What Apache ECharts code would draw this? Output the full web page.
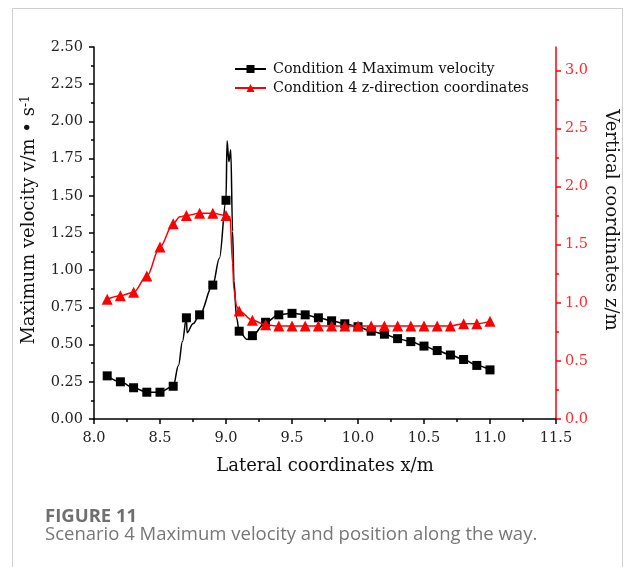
<!DOCTYPE html>
<html>
<head>
<meta charset="utf-8">
<script src="https://cdn.jsdelivr.net/npm/echarts@6/dist/echarts.min.js"></script>
<style>
  html, body { margin: 0; padding: 0; background: #fff; }
  #chart { width: 625px; height: 567px; }
</style>
</head>
<body>
<div id="chart"></div>
<script>
// Sampling positions (x, m) where markers are drawn
const markX = [8.1, 8.2, 8.3, 8.4, 8.5, 8.6, 8.7, 8.8, 8.9, 9.0,
               9.1, 9.2, 9.3, 9.4, 9.5, 9.6, 9.7, 9.8, 9.9, 10.0,
               10.1, 10.2, 10.3, 10.4, 10.5, 10.6, 10.7, 10.8, 10.9, 11.0];

// Condition 4 maximum velocity (m/s) at the marker positions
const velocity = [0.29, 0.25, 0.21, 0.18, 0.18, 0.22, 0.68, 0.70, 0.90, 1.47,
                  0.59, 0.56, 0.65, 0.70, 0.71, 0.70, 0.68, 0.66, 0.64, 0.62,
                  0.59, 0.57, 0.54, 0.52, 0.49, 0.46, 0.43, 0.40, 0.36, 0.33];

// Intermediate velocity samples between markers (curve only, no marker)
const velocityExtraX = [8.64, 8.67, 8.705, 8.75, 8.95, 9.008, 9.022, 9.036, 9.05, 9.06, 9.08, 9.16];
const velocityExtra  = [0.36, 0.52, 0.58, 0.64, 1.08, 1.87, 1.73, 1.81, 1.26, 0.93, 0.68, 0.535];

// Condition 4 z-direction coordinate (m) at the marker positions
const elevation = [1.03, 1.06, 1.09, 1.23, 1.48, 1.68, 1.75, 1.77, 1.77, 1.75,
                   0.93, 0.85, 0.81, 0.80, 0.80, 0.80, 0.80, 0.80, 0.80, 0.80,
                   0.80, 0.80, 0.80, 0.80, 0.80, 0.80, 0.80, 0.82, 0.82, 0.84];

// Intermediate elevation samples (curve only, no marker)
const elevationExtraX = [8.65, 9.03, 9.05, 9.06, 9.08];
const elevationExtra  = [1.74, 1.74, 1.34, 1.11, 0.97];

// Tick positions of the z axis
const zMajorTicks = [0, 0.5, 1.0, 1.5, 2.0, 2.5, 3.0];
const zMinorTicks = [0.25, 0.75, 1.25, 1.75, 2.25, 2.75];

const SERIF = '"DejaVu Serif", "Liberation Serif", serif';
const CAPTION = '"Open Sans", Lato, sans-serif';

function mergeSeries(mx, my, ex, ey) {
  const pts = [];
  mx.forEach((x, i) => pts.push({ value: [x, my[i]] }));
  ex.forEach((x, i) => pts.push({ value: [x, ey[i]], symbol: 'none' }));
  pts.sort((a, b) => a.value[0] - b.value[0]);
  return pts;
}

const chart = echarts.init(document.getElementById('chart'), null, { renderer: 'canvas' });

const option = {
  backgroundColor: '#fff',
  animation: false,
  grid: { left: 94, right: 69, top: 47, bottom: 148, containLabel: false, outerBoundsMode: 'none' },
  legend: {
    orient: 'vertical',
    left: 234,
    top: 62,
    padding: 0,
    itemWidth: 31,
    itemHeight: 10,
    itemGap: 5,
    textStyle: { fontFamily: SERIF, fontSize: 14.3, lineHeight: 14, color: '#111', padding: [0, 0, 0, 2] },
    data: ['Condition 4 Maximum velocity', 'Condition 4 z-direction coordinates']
  },
  xAxis: {
    type: 'value',
    min: 8.0,
    max: 11.5,
    interval: 0.5,
    name: 'Lateral coordinates x/m',
    nameLocation: 'middle',
    nameGap: 38,
    nameTextStyle: { fontFamily: SERIF, fontSize: 18, color: '#111' },
    axisLine: { lineStyle: { color: '#000', width: 1.5 } },
    axisTick: { length: 5, lineStyle: { color: '#000', width: 1.5 } },
    minorTick: { show: true, splitNumber: 2, length: 3, lineStyle: { color: '#000', width: 1.5 } },
    splitLine: { show: false },
    axisLabel: {
      fontFamily: SERIF, fontSize: 14.5, color: '#222', margin: 12,
      formatter: v => v.toFixed(1)
    }
  },
  yAxis: [
    {
      type: 'value',
      min: 0,
      max: 2.5,
      interval: 0.25,
      position: 'left',
      name: 'Maximum velocity v/m \u2022 s{sup|-1}',
      nameLocation: 'middle',
      nameRotate: 90,
      nameGap: 55,
      nameTextStyle: {
        fontFamily: SERIF, fontSize: 18, color: '#111', padding: [0, 0, 0, 26],
        rich: { sup: { fontFamily: SERIF, fontSize: 12, color: '#111', verticalAlign: 'top', padding: [0, 0, 7, 0] } }
      },
      axisLine: { show: true, lineStyle: { color: '#000', width: 1.5 } },
      axisTick: { show: true, length: 5, lineStyle: { color: '#000', width: 1.5 } },
      minorTick: { show: true, splitNumber: 2, length: 3, lineStyle: { color: '#000', width: 1.5 } },
      splitLine: { show: false },
      axisLabel: {
        fontFamily: SERIF, fontSize: 14.5, color: '#222', margin: 11,
        formatter: v => v.toFixed(2)
      }
    },
    {
      type: 'value',
      min: 0,
      max: 3.2,
      position: 'right',
      name: 'Vertical coordinates z/m',
      nameLocation: 'middle',
      nameRotate: -90,
      nameGap: 46,
      nameTextStyle: { fontFamily: SERIF, fontSize: 18, color: '#111', padding: [0, 26, 0, 0] },
      axisLine: { show: true, lineStyle: { color: '#ff0000', width: 1.5 } },
      axisTick: { show: true, length: 5, customValues: zMajorTicks, lineStyle: { color: '#ff0000', width: 1.5 } },
      splitLine: { show: false },
      axisLabel: {
        fontFamily: SERIF, fontSize: 14.5, color: '#ff2a2a', margin: 9,
        customValues: zMajorTicks,
        formatter: v => v.toFixed(1)
      }
    },
    {
      // minor ticks of the z axis
      type: 'value',
      min: 0,
      max: 3.2,
      position: 'right',
      axisLine: { show: false },
      axisTick: { show: true, length: 3, customValues: zMinorTicks, lineStyle: { color: '#ff0000', width: 1.5 } },
      axisLabel: { show: false },
      splitLine: { show: false }
    }
  ],
  series: [
    {
      name: 'Condition 4 Maximum velocity',
      type: 'line',
      yAxisIndex: 0,
      smooth: 0.35,
      smoothMonotone: 'x',
      symbol: 'rect',
      symbolSize: 9,
      color: '#000',
      lineStyle: { color: '#000', width: 1.5 },
      itemStyle: { color: '#000' },
      data: mergeSeries(markX, velocity, velocityExtraX, velocityExtra),
      z: 2
    },
    {
      name: 'Condition 4 z-direction coordinates',
      type: 'line',
      yAxisIndex: 1,
      smooth: 0.35,
      smoothMonotone: 'x',
      symbol: 'triangle',
      symbolSize: 11,
      color: '#ff0000',
      lineStyle: { color: '#ff0000', width: 1.5 },
      itemStyle: { color: '#ff0000' },
      data: mergeSeries(markX, elevation, elevationExtraX, elevationExtra),
      z: 3
    }
  ],
  graphic: [
    {
      type: 'rect',
      shape: { x: 12.5, y: 8.5, width: 610, height: 600 },
      style: { fill: 'none', stroke: '#cfcfcf', lineWidth: 1 },
      silent: true
    },
    {
      type: 'text',
      left: 45,
      top: 507,
      style: { text: 'FIGURE 11', fontFamily: CAPTION, fontWeight: 'bold', fontSize: 18.5, fill: '#6f6f6f' }
    },
    {
      type: 'text',
      left: 45,
      top: 525,
      style: { text: 'Scenario 4 Maximum velocity and position along the way.', fontFamily: CAPTION, fontSize: 18.5, fill: '#777' }
    }
  ]
};

chart.setOption(option);
</script>
</body>
</html>
